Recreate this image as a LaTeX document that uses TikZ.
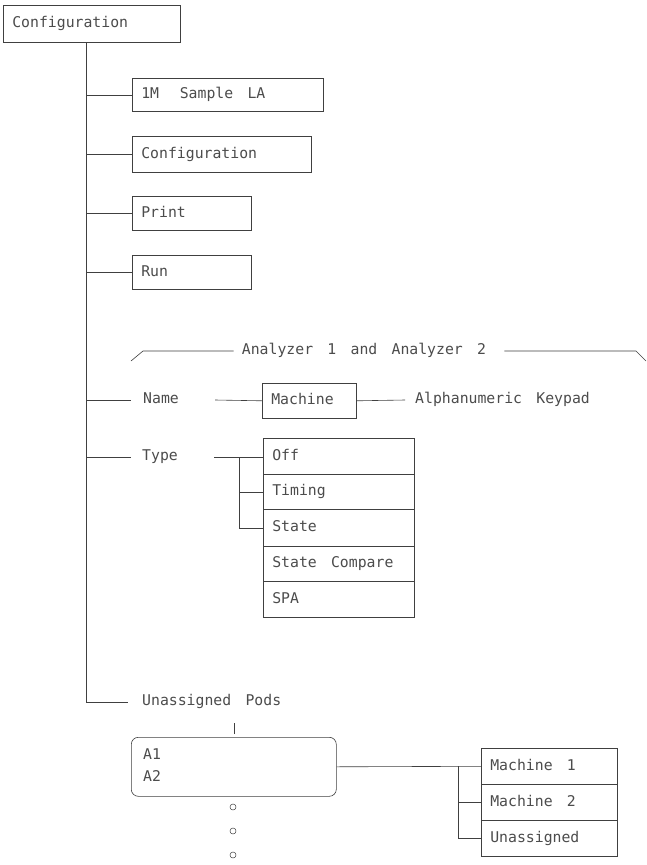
\documentclass[tikz,border=0pt]{standalone}
\usepackage{fontspec}
\newfontfamily\plotfont{DejaVu Sans Mono}[WordSpace=1.6]
\definecolor{linec}{gray}{0.25}
\definecolor{textc}{gray}{0.3}
\def\wsp{\hspace{0.96em}}
\begin{document}
\begin{tikzpicture}[x=1pt,y=-1pt,
  every node/.style={font=\plotfont\fontsize{14.8}{17}\selectfont, text=textc},
  ln/.style={draw=linec, line width=0.6pt},
  box/.style={draw=linec, line width=0.6pt, anchor=north west, inner xsep=9pt, inner ysep=0pt,
              align=left, text height=10.5pt, text depth=3pt},
  lbl/.style={anchor=west, inner sep=0pt, text height=10.5pt, text depth=3pt}]
\useasboundingbox (0,0) rectangle (647,865);
\fill[white] (0,0) rectangle (647,865);

\coordinate (spine) at (86,0);

% top box
\node[box, minimum width=177pt, minimum height=37pt, text width=159pt] (top) at (3,5) {Configuration};
% first level boxes
\node[box, minimum width=191pt, minimum height=33pt, text width=173pt] (sample) at (132,78) {1M\hspace{1.4em}Sample\wsp LA};
\node[box, minimum width=179pt, minimum height=36pt, text width=161pt] (conf) at (132,136) {Configuration};
\node[box, minimum width=119pt, minimum height=34pt, text width=101pt] (print) at (132,196) {Print};
\node[box, minimum width=119pt, minimum height=34pt, text width=101pt] (run) at (132,255) {Run};

% analyzer bracket
\node[lbl, anchor=center] (anl) at (364,351) {Analyzer 1 and Analyzer 2};
\coordinate (bl) at (131,361);
\coordinate (br) at (646,361);
\draw[ln] (bl) -- (143,351) -- ([xshift=-8pt]anl.west);
\draw[ln] ([xshift=18pt]anl.east) -- (636,351) -- (br);

% Name row
\node[lbl] (name) at (143,400) {Name};
\node[box, minimum width=94pt, minimum height=35pt, text width=76pt, inner xsep=9pt] (mach) at (262,383) {Machine};
\node[lbl] (alpha) at (415,400) {Alphanumeric Keypad};

% Type row
\node[lbl] (type) at (142,457) {Type};
\node[box, minimum width=151pt, minimum height=36pt, text width=133pt] (off) at (263,438) {Off};
\node[box, minimum width=151pt, minimum height=35pt, text width=133pt] (timing) at (263,474) {Timing};
\node[box, minimum width=151pt, minimum height=37pt, text width=133pt] (state) at (263,509) {State};
\node[box, minimum width=151pt, minimum height=35pt, text width=133pt] (statec) at (263,546) {State\wsp Compare};
\node[box, minimum width=151pt, minimum height=36pt, text width=133pt] (spa) at (263,581) {SPA};

% Unassigned pods
\node[lbl] (upods) at (142,702) {Unassigned Pods};
\node[draw=linec, line width=0.6pt, rounded corners=7pt, anchor=north west,
      minimum width=205pt, minimum height=59pt, inner sep=0pt] (pods) at (131,737) {};
\node[lbl] (a1) at (143,756) {A1};
\node[lbl] (a2) at (143,778) {A2};
\foreach \yy/\nm in {807/c1,831/c2,855/c3}
  \node[draw=linec, line width=0.5pt, circle, minimum size=6pt, inner sep=0pt] (\nm) at (233,\yy) {};

\node[box, minimum width=136pt, minimum height=36pt, text width=118pt] (m1) at (481,748) {Machine\wsp 1};
\node[box, minimum width=136pt, minimum height=36pt, text width=118pt] (m2) at (481,784) {Machine\wsp 2};
\node[box, minimum width=136pt, minimum height=36pt, text width=118pt] (ua) at (481,820) {Unassigned};

% spine and branches
\draw[ln] (top.south -| spine) |- ([xshift=-14pt]upods.west);
\draw[ln] (spine |- sample.west) -- (sample.west);
\draw[ln] (spine |- conf.west) -- (conf.west);
\draw[ln] (spine |- print.west) -- (print.west);
\draw[ln] (spine |- run.west) -- (run.west);
\draw[ln] (spine |- name.west) -- ([xshift=-12pt]name.west);
\draw[ln] ([xshift=36pt]name.east) -- (mach.west);
\draw[ln] (mach.east) -- ([xshift=-10pt]alpha.west);
\draw[ln] (spine |- type.west) -- ([xshift=-11pt]type.west);
\draw[ln] ([xshift=36pt]type.east) -- (type.east -| off.west);
\coordinate (tb) at (239,457);
\draw[ln] (tb) |- (state.west);
\draw[ln] (tb |- timing.west) -- (timing.west);

\draw[ln] (pods.north) ++(0,-3) -- ++(0,-11);
\draw[ln] (pods.east) -- (m1.west);
\coordinate (mb) at (458,766);
\draw[ln] (mb) |- (ua.west);
\draw[ln] (mb |- m2.west) -- (m2.west);
\end{tikzpicture}
\end{document}
